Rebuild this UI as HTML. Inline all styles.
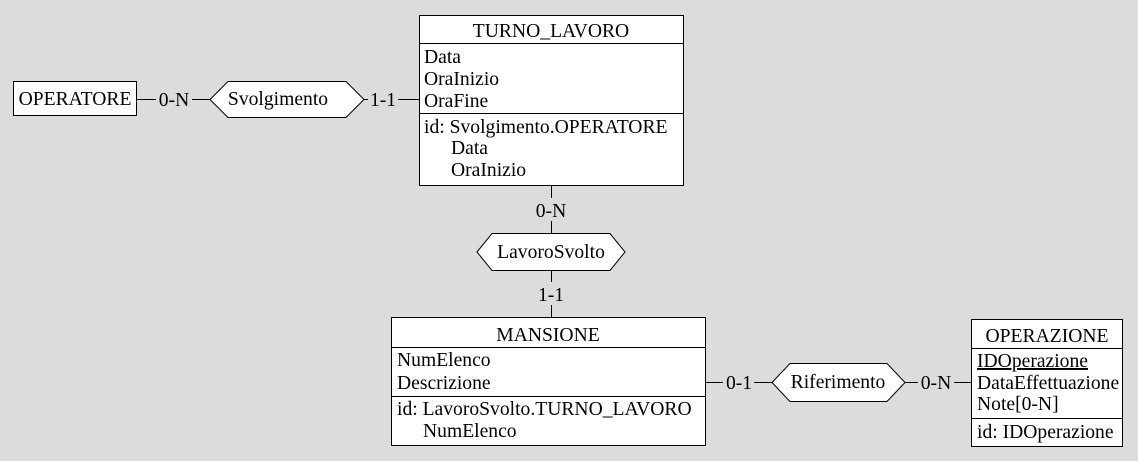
<!DOCTYPE html>
<html><head><meta charset="utf-8"><style>
html,body{margin:0;padding:0;background:#dcdcdc;}
svg{display:block;}
text{font-family:"Liberation Serif","Times New Roman",serif;font-size:19.6px;fill:#000;}
</style></head><body>
<svg width="1138" height="461" viewBox="0 0 1138 461" xmlns="http://www.w3.org/2000/svg">
<rect width="1138" height="461" fill="#dcdcdc"/>
<g stroke="#000" stroke-width="1" fill="none" shape-rendering="crispEdges">
<line x1="137" y1="99.5" x2="156" y2="99.5"/>
<line x1="192" y1="99.5" x2="210" y2="99.5"/>
<line x1="364" y1="99.5" x2="368" y2="99.5"/>
<line x1="398" y1="99.5" x2="419" y2="99.5"/>
<line x1="551.5" y1="186" x2="551.5" y2="198"/>
<line x1="551.5" y1="221" x2="551.5" y2="233"/>
<line x1="551.5" y1="271" x2="551.5" y2="282"/>
<line x1="551.5" y1="305" x2="551.5" y2="317"/>
<line x1="706" y1="382.5" x2="723" y2="382.5"/>
<line x1="754" y1="382.5" x2="772" y2="382.5"/>
<line x1="905" y1="382.5" x2="918" y2="382.5"/>
<line x1="954" y1="382.5" x2="971" y2="382.5"/>
</g>
<g stroke="#000" stroke-width="1" fill="#fff">
<rect x="13.5" y="81.5" width="123" height="34"/>
<rect x="419.5" y="15.5" width="264" height="170"/>
<line x1="419.5" y1="43.5" x2="683.5" y2="43.5"/>
<line x1="419.5" y1="113.5" x2="683.5" y2="113.5"/>
<rect x="391.5" y="317.5" width="314" height="128"/>
<line x1="391.5" y1="347.5" x2="705.5" y2="347.5"/>
<line x1="391.5" y1="396.5" x2="705.5" y2="396.5"/>
<rect x="971.5" y="319.5" width="151" height="127"/>
<line x1="971.5" y1="348.5" x2="1122.5" y2="348.5"/>
<line x1="971.5" y1="418.5" x2="1122.5" y2="418.5"/>
<polygon points="210,99.5 228,81.5 346,81.5 364,99.5 346,117.5 228,117.5"/>
<polygon points="477,252 492,233.5 610,233.5 625,252 610,270.5 492,270.5"/>
<polygon points="772,382.5 790,363.5 887,363.5 905,382.5 887,401.5 790,401.5"/>
</g>
<text x="75" y="105" text-anchor="middle">OPERATORE</text>
<text x="174" y="106" text-anchor="middle">0-N</text>
<text x="383" y="106" text-anchor="middle">1-1</text>
<text x="278" y="105" text-anchor="middle">Svolgimento</text>
<text x="551" y="37" text-anchor="middle">TURNO_LAVORO</text>
<text x="424" y="63">Data</text>
<text x="424" y="85">OraInizio</text>
<text x="424" y="107">OraFine</text>
<text x="424" y="133">id: Svolgimento.OPERATORE</text>
<text x="451" y="154">Data</text>
<text x="451" y="176">OraInizio</text>
<text x="551" y="217" text-anchor="middle">0-N</text>
<text x="551" y="258" text-anchor="middle">LavoroSvolto</text>
<text x="551" y="301" text-anchor="middle">1-1</text>
<text x="548" y="341" text-anchor="middle">MANSIONE</text>
<text x="397" y="366">NumElenco</text>
<text x="397" y="389">Descrizione</text>
<text x="397" y="415">id: LavoroSvolto.TURNO_LAVORO</text>
<text x="423" y="437">NumElenco</text>
<text x="739" y="389" text-anchor="middle">0-1</text>
<text x="838" y="388" text-anchor="middle">Riferimento</text>
<text x="936" y="389" text-anchor="middle">0-N</text>
<text x="1047" y="342" text-anchor="middle">OPERAZIONE</text>
<text x="977" y="367" text-decoration="underline">IDOperazione</text>
<text x="977" y="389">DataEffettuazione</text>
<text x="977" y="410">Note[0-N]</text>
<text x="977" y="438">id: IDOperazione</text>
</svg>
</body></html>
